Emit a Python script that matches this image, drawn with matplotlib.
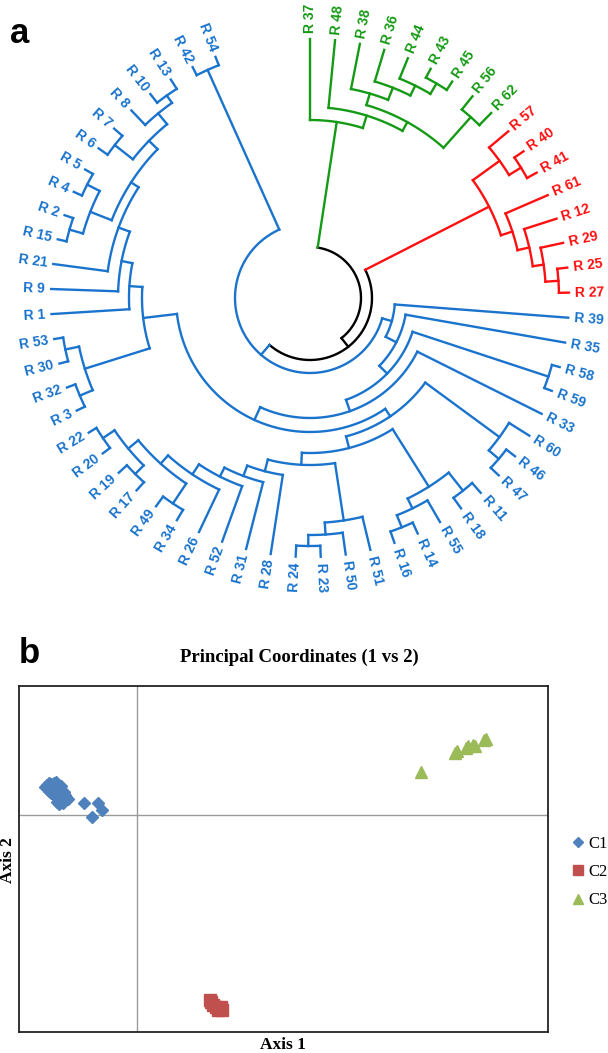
import numpy as np
import matplotlib
matplotlib.use("Agg")
import matplotlib.pyplot as plt

# ── Colours ─────────────────────────────────────────────────────────────────
BLUE, RED, GREEN, BLACK = "#1A73CC", "#FF1010", "#159A15", "#000000"
C1_COL, C2_COL, C3_COL = "#4F81BD", "#C0504D", "#9BBB59"

# ── (a) dendrogram: (merge distance, left, right), leaves by name ──────────
C3_TREE = (0.81, "R 37", (0.68, "R 48", (0.58,
           (0.46, "R 38", (0.33, "R 36", (0.22, "R 44", (0.10, "R 43", "R 45")))),
           (0.17, "R 56", "R 62"))))

C2_TREE = (0.58, (0.25, "R 57", (0.11, "R 40", "R 41")),
           (0.46, "R 61", (0.34, "R 12", (0.23, "R 29", (0.10, "R 25", "R 27")))))

C1_LEFT = (0.78, "R 1", (0.67, "R 9", (0.55, "R 21", (0.46,
           (0.23, (0.09, "R 15", "R 2"), (0.09, "R 4", "R 5")),
           (0.34, (0.11, "R 6", "R 7"), (0.20, "R 8", (0.11, "R 10", "R 13")))))))
C1_UPLEFT = (0.91, (0.23, (0.09, "R 3", "R 32"), (0.09, "R 30", "R 53")), C1_LEFT)
C1_BOTLEFT = (0.80, "R 28", (0.69, "R 31", (0.59, "R 52", (0.47, "R 26",
              (0.36, (0.12, "R 34", "R 49"),
               (0.23, (0.11, "R 17", "R 19"), (0.09, "R 20", "R 22")))))))
C1_BOT = (0.34, "R 51", (0.22, "R 50", (0.11, "R 23", "R 24")))
C1_BOTRIGHT = (0.36, (0.13, "R 11", "R 18"), (0.25, "R 55", (0.12, "R 14", "R 16")))
C1_RIGHT = (0.24, "R 60", (0.11, "R 46", "R 47"))
C1_TREE = (1.84, (1.74, "R 39", (1.62, "R 35", (1.51, (0.08, "R 58", "R 59"),
           (1.39, "R 33", (1.25, (1.16, C1_RIGHT, (1.04, C1_BOTRIGHT,
            (0.92, C1_BOT, C1_BOTLEFT))), C1_UPLEFT))))),
           (0.09, "R 42", "R 54"))

ROOT_H = 2.08      # C3 vs (C2, C1)
C2_C1_H = 1.97     # C2 vs C1

# ── (b) principal coordinates ───────────────────────────────────────────────
c1_x = [-0.090, -0.088, -0.086, -0.083, -0.087, -0.085, -0.082, -0.080, -0.079,
        -0.089, -0.086, -0.082, -0.080, -0.078, -0.076, -0.083, -0.081, -0.079,
        -0.075, -0.073, -0.080, -0.078, -0.074, -0.072, -0.071, -0.076, -0.073,
        -0.079, -0.082, -0.086, -0.075, -0.080, -0.078, -0.074, -0.069, -0.085,
        -0.081, -0.076, -0.092, -0.072, -0.088, -0.053, -0.039, -0.035, -0.045]
c1_y = [0.030, 0.032, 0.031, 0.032, 0.028, 0.027, 0.029, 0.030, 0.028,
        0.026, 0.025, 0.025, 0.026, 0.026, 0.024, 0.023, 0.022, 0.023,
        0.022, 0.023, 0.019, 0.020, 0.019, 0.020, 0.018, 0.017, 0.016,
        0.016, 0.020, 0.022, 0.014, 0.013, 0.011, 0.012, 0.016, 0.029,
        0.033, 0.029, 0.028, 0.015, 0.024, 0.012, 0.012, 0.005, -0.002]
c2_x = [0.073, 0.074, 0.076, 0.079, 0.083, 0.085, 0.081, 0.084]
c2_y = [-0.185, -0.187, -0.190, -0.192, -0.194, -0.195, -0.195, -0.192]
c3_x = [0.284, 0.318, 0.320, 0.329, 0.331, 0.336, 0.338, 0.347, 0.349]
c3_y = [0.043, 0.062, 0.064, 0.067, 0.069, 0.070, 0.069, 0.075, 0.076]

# ── layout constants ────────────────────────────────────────────────────────
W, H = 608, 1053
R_TIP, R_UNIT = 259, 100
STEP = 338.6 / 61
LW = 1.7
LABEL_FONT = dict(family="Liberation Sans", fontweight="bold", fontsize=10)

fig = plt.figure(figsize=(W / 100, H / 100), dpi=100)

ax = fig.add_axes([0, 1 - 620 / H, 1, 620 / H])
ax.set_xlim(-310, 298)
ax.set_ylim(-322, 298)
ax.axis("off")

leaf_i = [0]


def arc(r, a0, a1, col):
    t = np.radians(np.linspace(a0, a1, max(2, int(abs(a1 - a0) * 2))))
    ax.plot(r * np.cos(t), r * np.sin(t), color=col, lw=LW,
            solid_capstyle="projecting")


def radial(a, r0, r1, col):
    t = np.radians(a)
    ax.plot([r0 * np.cos(t), r1 * np.cos(t)], [r0 * np.sin(t), r1 * np.sin(t)],
            color=col, lw=LW, solid_capstyle="projecting")


def label(name, a, col):
    t = np.radians(a)
    r = R_TIP + 6
    if np.cos(t) > -1e-6:
        rot, ha = a, "left"
    else:
        rot, ha = a + 180, "right"
    ax.text(r * np.cos(t), r * np.sin(t), name, rotation=rot, ha=ha, va="center",
            rotation_mode="anchor", color=col, **LABEL_FONT)


def draw(node, col):
    if isinstance(node, str):
        a = 90 - STEP * leaf_i[0]
        leaf_i[0] += 1
        label(node, a, col)
        return a, R_TIP
    h, left, right = node
    r = R_TIP - h * R_UNIT
    a1, r1 = draw(left, col)
    a2, r2 = draw(right, col)
    arc(r, a1, a2, col)
    radial(a1, r, r1, col)
    radial(a2, r, r2, col)
    return (a1 + a2) / 2, r


aG, rG = draw(C3_TREE, GREEN)
aR, rR = draw(C2_TREE, RED)
aB, rB = draw(C1_TREE, BLUE)

rX = R_TIP - C2_C1_H * R_UNIT
aX = (aR + aB) / 2
arc(rX, aR, aB, BLACK)
radial(aR, rX, rR, RED)
radial(aB, rX, rB, BLUE)

r0 = R_TIP - ROOT_H * R_UNIT
arc(r0, aG, aX, BLACK)
radial(aG, r0, rG, GREEN)
radial(aX, r0, rX, BLACK)

fig.text(10 / W, 1 - 43 / H, "a", family="Liberation Sans", fontweight="bold",
         fontsize=25, va="baseline", ha="left")

# ── (b) scatter ─────────────────────────────────────────────────────────────
axb = fig.add_axes([18.7 / W, 1 - 1032 / H, (548 - 18.7) / W, (1032 - 686) / H])
axb.set_xlim(-0.118, 0.411)
axb.set_ylim(-0.217, 0.129)
axb.set_xticks([])
axb.set_yticks([])
for s in axb.spines.values():
    s.set_linewidth(1.3)
    s.set_color("#222222")
axb.axhline(0, color="#9A9A9A", lw=1.0, zorder=1)
axb.axvline(0, color="#9A9A9A", lw=1.0, zorder=1)

axb.plot(c1_x, c1_y, "D", color=C1_COL, ms=6.5, mec=C1_COL, ls="none", label="C1", zorder=3)
axb.plot(c2_x, c2_y, "s", color=C2_COL, ms=8, mec=C2_COL, ls="none", label="C2", zorder=3)
axb.plot(c3_x, c3_y, "^", color=C3_COL, ms=9, mec=C3_COL, ls="none", label="C3", zorder=3)

SERIF = "Liberation Serif"
fig.text(299 / W, 1 - 657 / H, "Principal Coordinates (1 vs 2)", family=SERIF,
         fontweight="bold", fontsize=13.5, ha="center", va="center")
fig.text(283 / W, 1 - 1045 / H, "Axis 1", family=SERIF, fontweight="bold",
         fontsize=12.5, ha="center", va="center")
fig.text(8 / W, 1 - 860 / H, "Axis 2", family=SERIF, fontweight="bold",
         fontsize=12.5, ha="center", va="center", rotation=90)
fig.text(19 / W, 1 - 663 / H, "b", family="Liberation Sans", fontweight="bold",
         fontsize=25, va="baseline", ha="left")

leg = axb.legend(loc="center left", bbox_to_anchor=(572 / W, 1 - 872 / H),
                 bbox_transform=fig.transFigure, frameon=False,
                 prop=dict(family=SERIF, size=12), handlelength=0.7,
                 handletextpad=0.3, labelspacing=0.75, borderpad=0,
                 borderaxespad=0, markerscale=0.85)

fig.savefig("out.png", dpi=100)
